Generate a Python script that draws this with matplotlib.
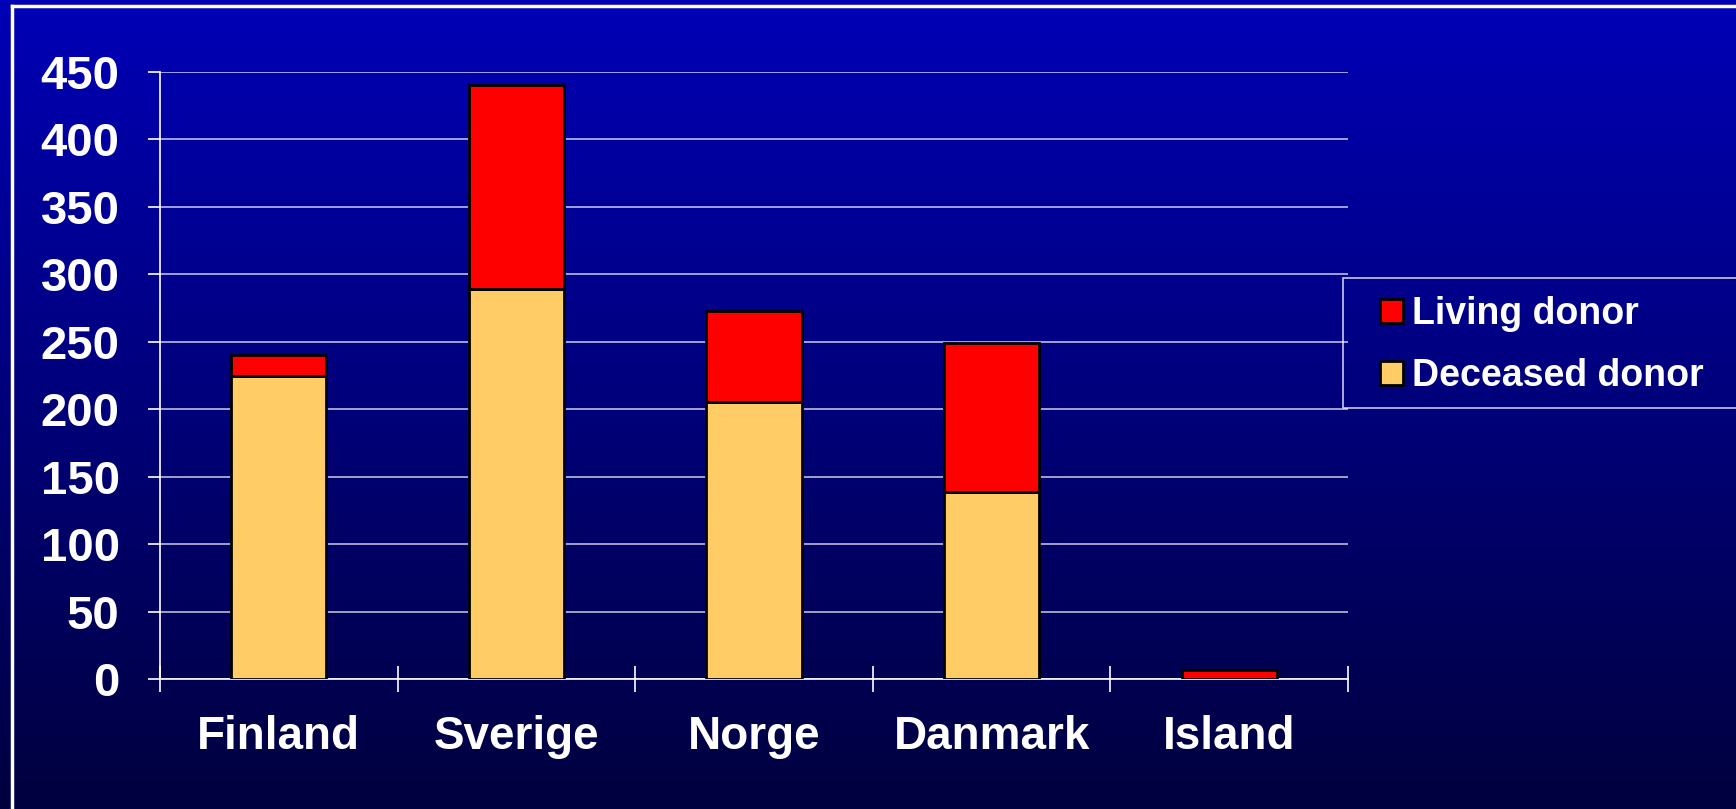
import numpy as np
import matplotlib.pyplot as plt
from matplotlib.patches import Patch, Rectangle

# datos
paises = ["Finland", "Sverige", "Norge", "Danmark", "Island"]
fallecido = [225, 289, 205, 139, 0]
vivo = [15, 151, 68, 110, 7]
ticks_y = [0, 50, 100, 150, 200, 250, 300, 350, 400, 450]

plt.rcParams['font.family'] = ['Liberation Sans', 'DejaVu Sans']
plt.rcParams['font.weight'] = 'bold'

W, H = 1736, 809
fig = plt.figure(figsize=(W / 100, H / 100), dpi=100)

# fondo con degradado azul
fondo = fig.add_axes([0, 0, 1, 1], zorder=0)
grad = np.linspace(0, 1, 256).reshape(-1, 1)
azul_arriba = np.array([0, 0, 182]) / 255
azul_abajo = np.array([0, 0, 62]) / 255
img = azul_arriba[None, None, :] * (1 - grad[:, :, None]) + azul_abajo[None, None, :] * grad[:, :, None]
fondo.imshow(img, aspect='auto', extent=[0, 1, 0, 1])
fondo.set_xlim(0, 1)
fondo.set_ylim(0, 1)
fondo.axis('off')
# marco blanco (solo izquierda y arriba visibles)
fondo.plot([12 / W, 12 / W], [0, 1 - 6 / H], color='white', lw=2.5)
fondo.plot([12 / W, 1], [1 - 6 / H, 1 - 6 / H], color='white', lw=2.5)
# marco de la leyenda
fondo.add_patch(Rectangle((1343 / W, 1 - 408 / H), 420 / W, 130 / H, facecolor='none',
                          edgecolor='#c8c8e8', linewidth=1.2))

ax = fig.add_axes([160 / W, 1 - 679 / H, (1348 - 160) / W, (679 - 72) / H], zorder=1)
ax.set_facecolor('none')

x = np.arange(len(paises))
ax.bar(x, fallecido, width=0.4, color='#FFCC66', edgecolor='black', linewidth=2, zorder=3)
ax.bar(x, vivo, width=0.4, bottom=fallecido, color='#FF0000', edgecolor='black', linewidth=2, zorder=3)

ax.set_xlim(-0.5, 4.5)
ax.set_ylim(0, 450)
ax.set_yticks(ticks_y)
ax.set_yticklabels([str(t) for t in ticks_y])
ax.grid(axis='y', color='white', alpha=0.8, linewidth=1.1, zorder=1)

ax.set_xticks(x)
ax.set_xticklabels(paises)
ax.set_xticks(np.arange(-0.5, 5, 1), minor=True)
ax.tick_params(axis='x', which='major', length=0, pad=26, labelsize=33, colors='white')
ax.tick_params(axis='x', which='minor', length=19, direction='inout', color='white', width=1.2)
ax.tick_params(axis='y', length=9, color='white', width=1.2, pad=20, labelsize=34, labelcolor='white')

for s in ['top', 'right']:
    ax.spines[s].set_visible(False)
for s in ['left', 'bottom']:
    ax.spines[s].set_color('white')
    ax.spines[s].set_linewidth(1.2)

handles = [Patch(facecolor='#FF0000', edgecolor='black', linewidth=2, label='Living donor'),
           Patch(facecolor='#FFCC66', edgecolor='black', linewidth=2, label='Deceased donor')]
leg = fig.legend(handles=handles, loc='upper left', bbox_to_anchor=(1380 / W, 1 - 296 / H),
                 fontsize=27, frameon=False, handlelength=0.6, handleheight=0.6,
                 handletextpad=0.25, labelspacing=0.7, borderpad=0, borderaxespad=0,
                 labelcolor='white')

fig.savefig('out.png', dpi=100)
